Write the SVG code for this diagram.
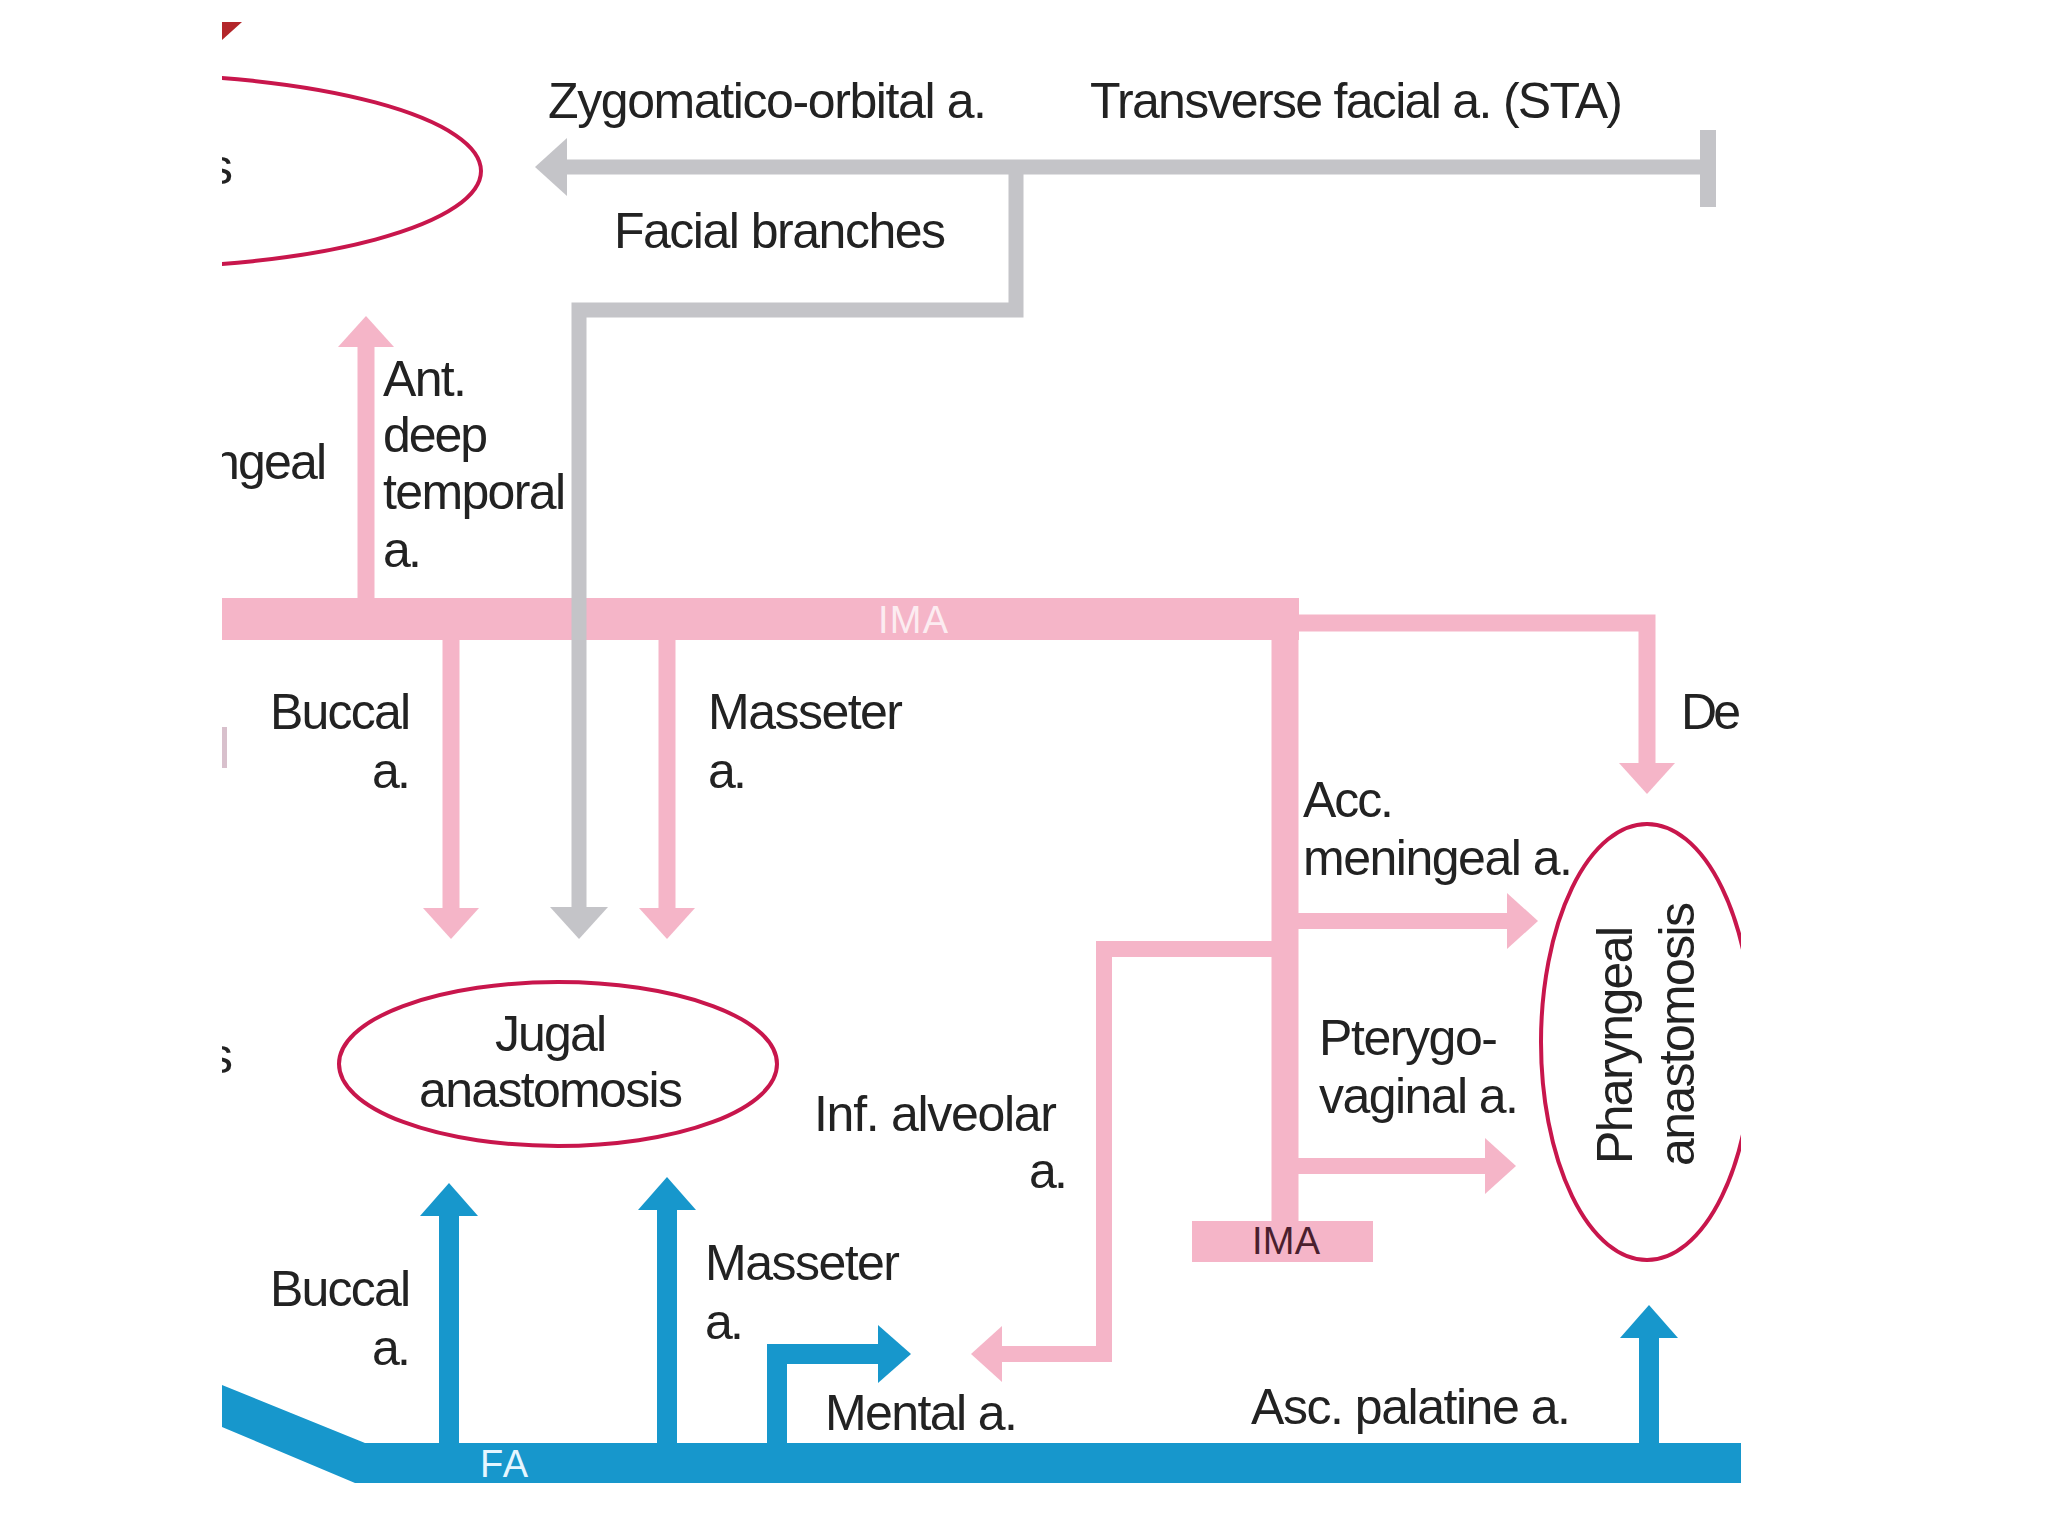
<svg xmlns="http://www.w3.org/2000/svg" width="2048" height="1536" viewBox="0 0 2048 1536">
<style>
text{font-family:"Liberation Sans",Arial,Helvetica,sans-serif;font-size:50px;fill:#222;lengthAdjust:spacingAndGlyphs}
.g{fill:none;stroke:#c4c4c8;stroke-width:15;stroke-linejoin:miter}
.p{fill:none;stroke:#f5b5c8;stroke-width:17;stroke-linejoin:miter}
.b{fill:none;stroke:#1797cc;stroke-width:20;stroke-linejoin:miter}
.ring{fill:none;stroke:#c8164c;stroke-width:4}
.mid{text-anchor:middle}
.end{text-anchor:end}
</style>
<defs>
<clipPath id="content"><rect x="222" y="0" width="1519" height="1536"/></clipPath>
<marker id="ahg" markerUnits="userSpaceOnUse" markerWidth="32" markerHeight="58" viewBox="0 0 32 58" refX="1" refY="29" orient="auto"><path d="M0,0 L32,29 L0,58 z" fill="#c4c4c8"/></marker>
<marker id="ahp" markerUnits="userSpaceOnUse" markerWidth="31" markerHeight="56" viewBox="0 0 31 56" refX="1" refY="28" orient="auto"><path d="M0,0 L31,28 L0,56 z" fill="#f5b5c8"/></marker>
<marker id="ahb" markerUnits="userSpaceOnUse" markerWidth="33" markerHeight="58" viewBox="0 0 33 58" refX="1" refY="29" orient="auto"><path d="M0,0 L33,29 L0,58 z" fill="#1797cc"/></marker>
</defs>
<rect width="2048" height="1536" fill="#ffffff"/>
<g clip-path="url(#content)">
<polygon points="222,22 242,22 222,40" fill="#b3262a"/>
<rect x="222" y="727" width="5" height="41" fill="#d8c0cc"/>
<text x="208" y="184">s</text>
<text x="208" y="1073">s</text>

<g id="connectors">
<!-- IMA pink system -->
<rect id="ima-bar" x="210" y="598" width="1089" height="42" fill="#f5b5c8"/>
<path class="p" d="M1285 623 H1647 V764" marker-end="url(#ahp)"/>
<path class="p" style="stroke-width:27" d="M1285 640 V1225"/>
<path class="p" style="stroke-width:16" d="M1285 921 H1508" marker-end="url(#ahp)"/>
<path class="p" style="stroke-width:16" d="M1285 1166 H1486" marker-end="url(#ahp)"/>
<path class="p" style="stroke-width:16" d="M1285 949 H1104 V1354 H1001" marker-end="url(#ahp)"/>
<path class="p" d="M366 600 V346" marker-end="url(#ahp)"/>
<path class="p" d="M451 638 V909" marker-end="url(#ahp)"/>
<path class="p" d="M667 638 V909" marker-end="url(#ahp)"/>
<!-- Facial branches grey -->
<path class="g" d="M1708 167 H566" marker-end="url(#ahg)"/>
<path class="g" style="stroke-width:16" d="M1708 130 V207"/>
<path class="g" d="M1016 167 V310 H579 V908" marker-end="url(#ahg)"/>
<!-- FA blue -->
<polygon id="fa-bar" points="210,1380 365,1443 1741,1443 1741,1483 355,1483 210,1422" fill="#1797cc"/>
<path class="b" d="M449 1445 V1215" marker-end="url(#ahb)"/>
<path class="b" d="M667 1445 V1209" marker-end="url(#ahb)"/>
<path class="b" d="M777 1445 V1354 H879" marker-end="url(#ahb)"/>
<path class="b" d="M1649 1445 V1337" marker-end="url(#ahb)"/>
</g>

<g id="node-top-ellipse"><ellipse class="ring" cx="120" cy="171" rx="361" ry="97"/></g>
<g id="node-jugal">
<ellipse class="ring" cx="558" cy="1064" rx="219" ry="82"/>
<text class="mid" x="551" y="1051" textLength="112">Jugal</text>
<text class="mid" x="551" y="1107" textLength="264">anastomosis</text>
</g>
<g id="node-pharyngeal">
<ellipse class="ring" cx="1647" cy="1042" rx="106" ry="218"/>
<text class="mid" transform="translate(1632,1045) rotate(-90)" textLength="238">Pharyngeal</text>
<text class="mid" transform="translate(1694,1034) rotate(-90)" textLength="264">anastomosis</text>
</g>
<g id="node-ima-box">
<rect x="1192" y="1221" width="181" height="41" fill="#f5b5c8"/>
<text class="mid" x="1286" y="1254" style="font-size:38px;fill:#4a1f2e" textLength="68">IMA</text>
</g>
<g id="label-ima-bar"><text x="878" y="633" style="font-size:38px;fill:#ffffff;opacity:0.75" textLength="70">IMA</text></g>
<g id="label-fa"><text x="480" y="1477" style="font-size:38px;fill:#e6f6ff" textLength="48">FA</text></g>

<g id="labels">
<text x="548" y="118" textLength="439">Zygomatico-orbital a.</text>
<text x="1090" y="118" textLength="533">Transverse facial a. (STA)</text>
<text x="614" y="248" textLength="332">Facial branches</text>
<text class="end" x="327" y="479" textLength="115">ngeal</text>
<text x="383" y="396" textLength="84">Ant.</text>
<text x="383" y="452" textLength="105">deep</text>
<text x="383" y="509" textLength="183">temporal</text>
<text x="383" y="567" textLength="39">a.</text>
<text class="end" x="411" y="729" textLength="141">Buccal</text>
<text class="end" x="411" y="788" textLength="39">a.</text>
<text x="708" y="729" textLength="195">Masseter</text>
<text x="708" y="788" textLength="39">a.</text>
<text x="1681" y="729" textLength="60">De</text>
<text x="1303" y="817" textLength="91">Acc.</text>
<text x="1303" y="875" textLength="270">meningeal a.</text>
<text x="814" y="1131" textLength="243">Inf. alveolar</text>
<text class="end" x="1068" y="1188" textLength="39">a.</text>
<text x="1319" y="1055" textLength="179">Pterygo-</text>
<text x="1319" y="1113" textLength="200">vaginal a.</text>
<text class="end" x="411" y="1306" textLength="141">Buccal</text>
<text class="end" x="411" y="1365" textLength="39">a.</text>
<text x="705" y="1280" textLength="195">Masseter</text>
<text x="705" y="1339" textLength="39">a.</text>
<text x="825" y="1430" textLength="193">Mental a.</text>
<text x="1251" y="1424" textLength="320">Asc. palatine a.</text>
</g>
</g>
</svg>
